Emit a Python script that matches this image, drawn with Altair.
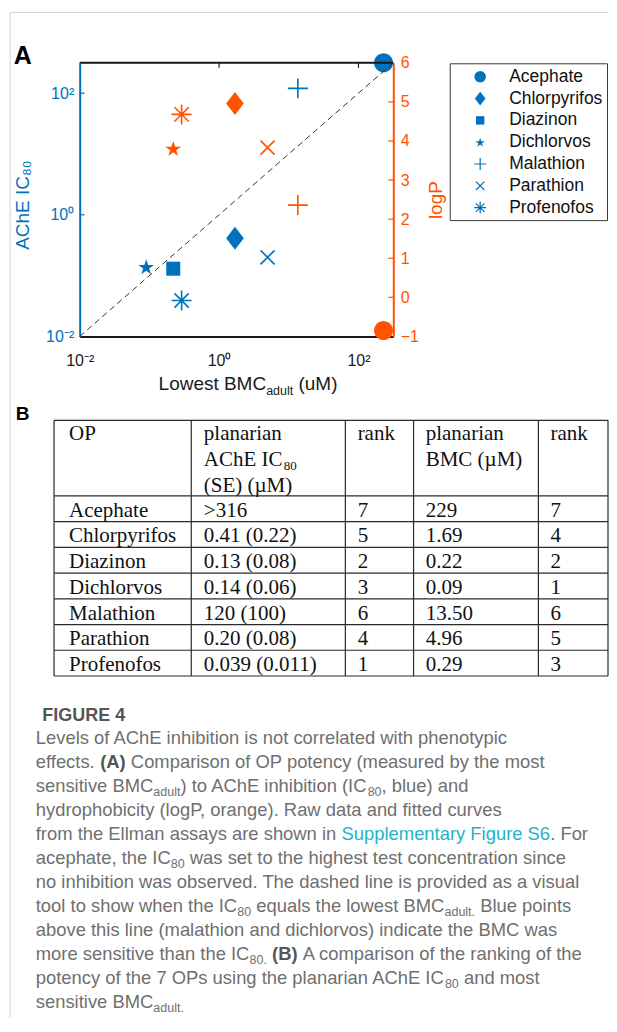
import math
import altair as alt
import pandas as pd

# ---------------- data ----------------
ops = ["Acephate", "Chlorpyrifos", "Diazinon", "Dichlorvos", "Malathion", "Parathion", "Profenofos"]
bmc_adult = [229, 1.69, 0.22, 0.09, 13.50, 4.96, 0.29]          # lowest BMC_adult (uM)
ache_ic80 = [316, 0.41, 0.13, 0.14, 120, 0.20, 0.039]            # AChE IC80 (uM)

# orange (logP) series as drawn: marker key, x position, logP
logp_marker = ["Acephate", "Chlorpyrifos", "Dichlorvos", "Malathion", "Parathion", "Profenofos"]
logp_bmc = [229, 1.69, 0.22, 13.50, 4.96, 0.29]
logp_value = [-0.85, 4.96, 3.81, 2.36, 3.83, 4.68]

diag = [0.01, 316.23]                 # dashed identity line end points

x_ticks = [0.01, 1, 100]
x_tick_labels = ["10\u207b\u00b2", "10\u2070", "10\u00b2"]
y_ticks = [0.01, 1, 100]
y_tick_labels = ["10\u207b\u00b2", "10\u2070", "10\u00b2"]
logp_ticks = [-1, 0, 1, 2, 3, 4, 5, 6]

# table B
ic80_text = [">316", "0.41 (0.22)", "0.13 (0.08)", "0.14 (0.06)", "120 (100)", "0.20 (0.08)", "0.039 (0.011)"]
rank_ic80 = ["7", "5", "2", "3", "6", "4", "1"]
bmc_text = ["229", "1.69", "0.22", "0.09", "13.50", "4.96", "0.29"]
rank_bmc = ["7", "4", "2", "1", "6", "5", "3"]

caption_title = "FIGURE 4"
caption_lines = [
    [("n", "Levels of AChE inhibition is not correlated with phenotypic")],
    [("n", "effects. "), ("b", "(A)"), ("n", " Comparison of OP potency (measured by the most")],
    [("n", "sensitive BMC"), ("s", "adult"), ("n", ") to AChE inhibition (IC"), ("s", "80"), ("n", ", blue) and")],
    [("n", "hydrophobicity (logP, orange). Raw data and fitted curves")],
    [("n", "from the Ellman assays are shown in "), ("l", "Supplementary Figure S6"), ("n", ". For")],
    [("n", "acephate, the IC"), ("s", "80"), ("n", " was set to the highest test concentration since")],
    [("n", "no inhibition was observed. The dashed line is provided as a visual")],
    [("n", "tool to show when the IC"), ("s", "80"), ("n", " equals the lowest BMC"), ("s", "adult."), ("n", " Blue points")],
    [("n", "above this line (malathion and dichlorvos) indicate the BMC was")],
    [("n", "more sensitive than the IC"), ("s", "80."), ("n", " "), ("b", "(B)"), ("n", " A comparison of the ranking of the")],
    [("n", "potency of the 7 OPs using the planarian AChE IC"), ("s", "80"), ("n", " and most")],
    [("n", "sensitive BMC"), ("s", "adult.")],
]

# ---------------- style / layout ----------------
BLUE = "#0072BD"
ORANGE = "#FF5300"
SANS = "Liberation Sans"
SERIF = "Liberation Serif"
CAP_GRAY = "#6f6f6f"
TEAL = "#1fb2c9"
FILLED = ["Acephate", "Chlorpyrifos", "Diazinon", "Dichlorvos"]

VX, VY = 79, 62      # page position of the plot area
W, H = 314, 274
RIGHT_EDGE = 608     # rightmost page x available


def px(x):
    return x - VX


def py(y):
    return y - VY


# font metrics (Helvetica/Arial and Times, per 1000 em)
HELV = dict(zip("abcdefghijklmnopqrstuvwxyz",
                [556, 556, 500, 556, 556, 278, 556, 556, 222, 222, 500, 222, 833, 556, 556, 556, 556, 333, 500, 278, 556, 500, 722, 500, 500, 500]))
HELV.update(zip("ABCDEFGHIJKLMNOPQRSTUVWXYZ",
                [667, 667, 722, 722, 667, 611, 778, 722, 278, 500, 667, 556, 833, 722, 778, 667, 778, 722, 667, 611, 722, 667, 944, 667, 667, 611]))
HELV.update({c: 556 for c in "0123456789"})
HELV.update({" ": 278, ".": 278, ",": 278, "(": 333, ")": 333, "-": 333, ":": 278, ">": 584})
HELVB = dict(zip("abcdefghijklmnopqrstuvwxyz",
                 [556, 611, 556, 611, 556, 333, 611, 611, 278, 278, 556, 278, 889, 611, 611, 611, 611, 389, 556, 333, 611, 556, 778, 556, 556, 500]))
HELVB.update(zip("ABCDEFGHIJKLMNOPQRSTUVWXYZ",
                 [722, 722, 722, 722, 667, 611, 778, 722, 278, 556, 722, 611, 833, 722, 778, 667, 778, 722, 667, 611, 722, 667, 944, 667, 667, 611]))
HELVB.update({c: 556 for c in "0123456789"})
HELVB.update({" ": 278, ".": 278, ",": 278, "(": 333, ")": 333})
TIMES = dict(zip("ABCDEFGHIJKLMNOPQRSTUVWXYZ",
                 [722, 667, 667, 722, 611, 556, 722, 722, 333, 389, 722, 611, 889, 722, 722, 556, 722, 667, 556, 611, 722, 722, 944, 722, 722, 611]))
TIMES.update({" ": 250})


def em(text, table):
    return sum(table.get(c, 556) for c in text) / 1000.0


# ---------------- marker glyphs ----------------
def poly(pts):
    return "M" + "L".join(f"{a:.3f},{b:.3f}" for a, b in pts) + "Z"


circle_path = poly([(0.826 * math.cos(2 * math.pi * k / 36), 0.826 * math.sin(2 * math.pi * k / 36)) for k in range(36)])
diamond_path = "M0,-1L0.77,0L0,1L-0.77,0Z"
square_path = "M-0.61,-0.61L0.61,-0.61L0.61,0.61L-0.61,0.61Z"
star_path = poly([((0.72 if k % 2 == 0 else 0.275) * math.cos(-math.pi / 2 + k * math.pi / 5),
                   (0.72 if k % 2 == 0 else 0.275) * math.sin(-math.pi / 2 + k * math.pi / 5) + 0.07) for k in range(10)])
plus_path = "M-0.87,0L0.87,0M0,-0.87L0,0.87"
x_path = "M-0.61,-0.61L0.61,0.61M-0.61,0.61L0.61,-0.61"
ast_path = plus_path + "M-0.62,-0.62L0.62,0.62M-0.62,0.62L0.62,-0.62"
shape_scale = alt.Scale(domain=ops, range=[circle_path, diamond_path, square_path, star_path, plus_path, x_path, ast_path])
PT = 529
LEG_PT = 190


def tick_expr(vals, labels):
    s = ""
    for v, lab in zip(vals[:-1], labels[:-1]):
        s += f"datum.value <= {v * 1.01} ? '{lab}' : "
    return s + f"'{labels[-1]}'"


xs = alt.Scale(type="log", domain=[0.01, 316.23], nice=False)
ys_ic = alt.Scale(type="log", domain=[0.01, 316.23], nice=False)
ys_lp = alt.Scale(type="linear", domain=[-1, 6], nice=False, zero=False)

x_axis = alt.Axis(orient="bottom", values=x_ticks, labelExpr=tick_expr(x_ticks, x_tick_labels), title=None,
                  grid=False, ticks=False, tickSize=0, domainColor="#1a1a1a", domainWidth=2,
                  labelColor="#1a1a1a", labelFont=SANS, labelFontSize=16, labelPadding=29,
                  labelBaseline="alphabetic", labelAlign="center", labelFlush=False, labelOverlap=False)
left_axis = alt.Axis(orient="left", values=y_ticks, labelExpr=tick_expr(y_ticks, y_tick_labels),
                     grid=False, ticks=False, tickSize=0, domainColor=BLUE, domainWidth=2,
                     labelColor=BLUE, labelFont=SANS, labelFontSize=16, labelPadding=6,
                     labelAlign="right", labelBaseline="middle", labelFlush=False, labelOverlap=False,
                     title="AChE IC\u2088\u2080", titleFont=SANS, titleFontSize=19, titleFontWeight="normal",
                     titleColor=BLUE, titleAngle=270, titleX=px(22), titleY=py(204),
                     titleAlign="center", titleBaseline="middle")
right_axis = alt.Axis(orient="right", values=logp_ticks, format="d",
                      grid=False, ticks=False, tickSize=0, domainColor=ORANGE, domainWidth=2,
                      labelColor=ORANGE, labelFont=SANS, labelFontSize=16, labelPadding=7,
                      labelAlign="left", labelBaseline="middle", labelFlush=False, labelOverlap=False,
                      title="logP", titleFont=SANS, titleFontSize=19, titleFontWeight="normal",
                      titleColor=ORANGE, titleAngle=270, titleX=435 - (VX + W), titleY=py(199),
                      titleAlign="center", titleBaseline="middle")

blue_df = pd.DataFrame({"name": ops, "bmc": bmc_adult, "ic80": ache_ic80})
orange_df = pd.DataFrame({"name": logp_marker, "bmc": logp_bmc, "logp": logp_value})
one = pd.DataFrame({"k": [0]})

is_filled = alt.FieldOneOfPredicate(field="name", oneOf=FILLED)
not_filled = alt.FieldOneOfPredicate(field="name", oneOf=[n for n in ops if n not in FILLED])

layers = []

# frame of the figure card
layers.append(alt.Chart(one).mark_rule(color="#d2d2d2", strokeWidth=1).encode(
    x=alt.value(px(9.3)), x2=alt.value(px(RIGHT_EDGE)), y=alt.value(py(11.7))))
layers.append(alt.Chart(one).mark_rule(color="#d2d2d2", strokeWidth=1).encode(
    x=alt.value(px(9.3)), y=alt.value(py(11.7)), y2=alt.value(py(1018))))

# blue series (carries x axis and left axis)
layers.append(alt.Chart(blue_df).mark_point(filled=True, color=BLUE, size=PT, opacity=1).encode(
    x=alt.X("bmc:Q", scale=xs, axis=x_axis),
    y=alt.Y("ic80:Q", scale=ys_ic, axis=left_axis),
    shape=alt.Shape("name:N", scale=shape_scale, legend=None)).transform_filter(is_filled))

# orange series (carries right axis)
layers.append(alt.Chart(orange_df).mark_point(filled=True, color=ORANGE, size=PT, opacity=1).encode(
    x=alt.X("bmc:Q", scale=xs, axis=None),
    y=alt.Y("logp:Q", scale=ys_lp, axis=right_axis),
    shape=alt.Shape("name:N", scale=shape_scale, legend=None)).transform_filter(is_filled))
layers.append(alt.Chart(orange_df).mark_point(filled=False, color=ORANGE, size=PT, opacity=1, strokeWidth=1.6).encode(
    x=alt.X("bmc:Q", scale=xs, axis=None),
    y=alt.Y("logp:Q", scale=ys_lp, axis=None),
    shape=alt.Shape("name:N", scale=shape_scale, legend=None)).transform_filter(not_filled))

# dashed identity line
layers.append(alt.Chart(pd.DataFrame({"v": diag})).mark_line(color="#333333", strokeWidth=1, strokeDash=[6, 4]).encode(
    x=alt.X("v:Q", scale=xs, axis=None), y=alt.Y("v:Q", scale=ys_ic, axis=None)))

layers.append(alt.Chart(blue_df).mark_point(filled=False, color=BLUE, size=PT, opacity=1, strokeWidth=1.6).encode(
    x=alt.X("bmc:Q", scale=xs, axis=None),
    y=alt.Y("ic80:Q", scale=ys_ic, axis=None),
    shape=alt.Shape("name:N", scale=shape_scale, legend=None)).transform_filter(not_filled))

# box top line and inward ticks
layers.append(alt.Chart(one).mark_rule(color="#1a1a1a", strokeWidth=2).encode(
    x=alt.value(0), x2=alt.value(W), y=alt.value(0)))
layers.append(alt.Chart(pd.DataFrame({"v": x_ticks[1:]})).mark_rule(color="#1a1a1a", strokeWidth=1.2).encode(
    x=alt.X("v:Q", scale=xs, axis=None), y=alt.value(0), y2=alt.value(5)))
layers.append(alt.Chart(pd.DataFrame({"v": y_ticks[1:]})).mark_rule(color=BLUE, strokeWidth=1.2).encode(
    y=alt.Y("v:Q", scale=ys_ic, axis=None), x=alt.value(0), x2=alt.value(5)))
layers.append(alt.Chart(pd.DataFrame({"v": logp_ticks[1:-1]})).mark_rule(color=ORANGE, strokeWidth=1.2).encode(
    y=alt.Y("v:Q", scale=ys_lp, axis=None), x=alt.value(W), x2=alt.value(W - 5)))

# legend
LEG_L = 450
leg_scale = alt.Scale(type="point", domain=ops, range=[py(76), py(207)], padding=0)
leg_df = pd.DataFrame({"name": ops})
layers.append(alt.Chart(one).mark_rect(fill="white", stroke="#3a3a3a", strokeWidth=1).encode(
    x=alt.value(px(LEG_L)), x2=alt.value(px(RIGHT_EDGE - 0.5)), y=alt.value(py(63)), y2=alt.value(py(220))))
layers.append(alt.Chart(leg_df).mark_point(filled=True, color=BLUE, size=LEG_PT, opacity=1).encode(
    x=alt.value(px(LEG_L + 30)), y=alt.Y("name:N", scale=leg_scale, axis=None),
    shape=alt.Shape("name:N", scale=shape_scale, legend=None)).transform_filter(is_filled))
layers.append(alt.Chart(leg_df).mark_point(filled=False, color=BLUE, size=LEG_PT, opacity=1, strokeWidth=1.2).encode(
    x=alt.value(px(LEG_L + 30)), y=alt.Y("name:N", scale=leg_scale, axis=None),
    shape=alt.Shape("name:N", scale=shape_scale, legend=None)).transform_filter(not_filled))
layers.append(alt.Chart(leg_df).mark_text(font=SANS, fontSize=17.5, align="left", baseline="middle", color="#111111").encode(
    x=alt.value(px(LEG_L + 59)), y=alt.Y("name:N", scale=leg_scale, axis=None), text="name:N"))


# generic positioned text helper
def texts(rows, **props):
    df = pd.DataFrame(rows, columns=["t", "x", "y"])
    return alt.Chart(df).mark_text(align="left", baseline="alphabetic", **props).encode(
        x=alt.X("x:Q", scale=None, axis=None), y=alt.Y("y:Q", scale=None, axis=None), text="t:N")


# panel labels
layers.append(texts([("A", px(13), py(63.5))], font=SANS, fontSize=25, fontWeight="bold", color="#000000"))
layers.append(texts([("B", px(15), py(420))], font=SANS, fontSize=19, fontWeight="bold", color="#000000"))

# x-axis title with subscript
XT = 19
xt0 = 158
xt_sub_x = xt0 + em("Lowest BMC", HELV) * XT
xt_end_x = xt_sub_x + em("adult", HELV) * 12.5 + em(" ", HELV) * XT
layers.append(texts([("Lowest BMC", px(xt0), py(390)), ("(uM)", px(xt_end_x), py(390))],
                    font=SANS, fontSize=XT, color="#1a1a1a"))
layers.append(texts([("adult", px(xt_sub_x), py(394.5))], font=SANS, fontSize=12.5, color="#1a1a1a"))

# ---------------- table B ----------------
T_LEFT, T_RIGHT = 53.3, RIGHT_EDGE
T_TOP, T_HEAD, T_BOT = 420, 495.7, 676
col_edges = [53.3, 190.7, 345.0, 413.3, 538.3, RIGHT_EDGE]
col_text_x = [68.3, 203.3, 357.3, 425.5, 550.5]
TF = 21
row_scale = alt.Scale(type="band", domain=ops, range=[py(T_HEAD), py(T_BOT)], paddingInner=0, paddingOuter=0)
table_df = pd.DataFrame({"op": ops, "ic": ic80_text, "r1": rank_ic80, "bmc": bmc_text, "r2": rank_bmc})

LINE = "#2a2a2a"
layers.append(alt.Chart(table_df).mark_rule(color=LINE, strokeWidth=1.2).encode(
    y=alt.Y("op:N", scale=row_scale, axis=None, bandPosition=0),
    x=alt.value(px(T_LEFT)), x2=alt.value(px(T_RIGHT))))
layers.append(alt.Chart(table_df).mark_rule(color=LINE, strokeWidth=1.2).encode(
    y=alt.Y("op:N", scale=row_scale, axis=None, bandPosition=1),
    x=alt.value(px(T_LEFT)), x2=alt.value(px(T_RIGHT))).transform_filter(alt.datum.op == ops[-1]))
layers.append(alt.Chart(one).mark_rule(color=LINE, strokeWidth=1.2).encode(
    y=alt.value(py(T_TOP)), x=alt.value(px(T_LEFT)), x2=alt.value(px(T_RIGHT))))
layers.append(alt.Chart(pd.DataFrame({"e": [px(e) for e in col_edges]})).mark_rule(color=LINE, strokeWidth=1.2).encode(
    x=alt.X("e:Q", scale=None, axis=None), y=alt.value(py(T_TOP)), y2=alt.value(py(T_BOT))))

for field, cx in zip(["op", "ic", "r1", "bmc", "r2"], col_text_x):
    layers.append(alt.Chart(table_df).mark_text(font=SERIF, fontSize=TF, align="left", baseline="alphabetic",
                                                color="#111111", dy=20.8).encode(
        x=alt.value(px(cx)), y=alt.Y("op:N", scale=row_scale, axis=None, bandPosition=0), text=f"{field}:N"))

head_rows = [
    ("OP", col_text_x[0], 440), ("planarian", col_text_x[1], 440), ("AChE IC", col_text_x[1], 466),
    ("(SE) (\u00b5M)", col_text_x[1], 491.5), ("rank", col_text_x[2], 440), ("planarian", col_text_x[3], 440),
    ("BMC (\u00b5M)", col_text_x[3], 466), ("rank", col_text_x[4], 440),
]
layers.append(texts([(t, px(x), py(y)) for t, x, y in head_rows], font=SERIF, fontSize=TF, color="#111111"))
layers.append(texts([("80", px(col_text_x[1] + em("AChE IC", TIMES) * TF), py(469.5))], font=SERIF, fontSize=13, color="#111111"))

# ---------------- caption ----------------
CAP_X0 = 35
CAP_MAXW = 553
SUB_R = 0.68


def line_em(segs):
    tot = 0
    for st, t in segs:
        tbl = HELVB if st == "b" else HELV
        tot += em(t, tbl) * (SUB_R if st == "s" else 1)
    return tot


CF = min(18.5, CAP_MAXW / max(line_em(s) for s in caption_lines))
cap_rows = {"n": [], "b": [], "l": [], "s": []}
for i, segs in enumerate(caption_lines):
    base_y = 744 + 24 * i
    cur = CAP_X0
    for st, t in segs:
        tbl = HELVB if st == "b" else HELV
        size = CF * (SUB_R if st == "s" else 1)
        lead = len(t) - len(t.lstrip(" "))
        vis = t.strip(" ")
        if vis:
            y = base_y + (CF * 0.22 if st == "s" else 0)
            cap_rows[st].append((vis, px(cur + em(" " * lead, tbl) * size), py(y)))
        cur += em(t, tbl) * size

layers.append(texts([(caption_title, px(41.5), py(720.7))], font=SANS, fontSize=18, fontWeight="bold", color="#555555"))
layers.append(texts(cap_rows["n"], font=SANS, fontSize=CF, color=CAP_GRAY))
layers.append(texts(cap_rows["b"], font=SANS, fontSize=CF, fontWeight="bold", color="#555555"))
layers.append(texts(cap_rows["l"], font=SANS, fontSize=CF, color=TEAL))
layers.append(texts(cap_rows["s"], font=SANS, fontSize=CF * SUB_R, color=CAP_GRAY))

chart = alt.layer(*layers).resolve_scale(x="independent", y="independent").properties(
    width=W, height=H,
    padding={"left": 0.8, "top": 3.2, "right": 0, "bottom": 0},
).configure_view(strokeWidth=0).configure(background="white")

chart.save("out.html", embed_options={"renderer": "svg", "actions": False})
